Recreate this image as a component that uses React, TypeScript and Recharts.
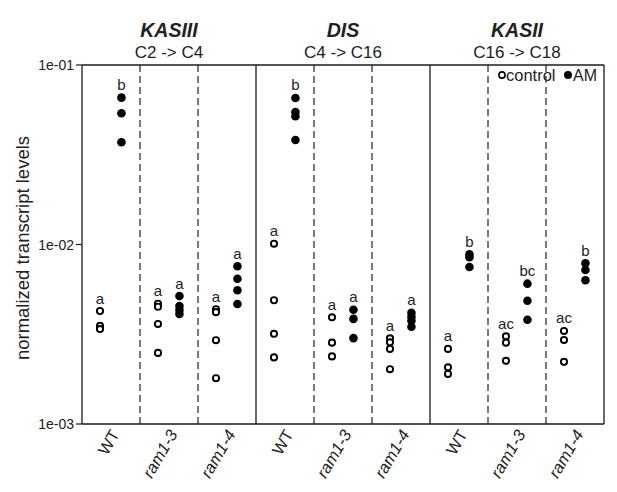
import React from 'react';
import { ScatterChart, Scatter, XAxis, YAxis, ReferenceLine } from 'recharts';

const genes = ['KASIII', 'DIS', 'KASII'];
const reactions = ['C2 -> C4', 'C4 -> C16', 'C16 -> C18'];
const genotypes = ['WT', 'ram1-3', 'ram1-4'];
const yTicks = [0.001, 0.01, 0.1];
const yTickLabels = ['1e-03', '1e-02', '1e-01'];
const xTicks = [0.5, 1.5, 2.5, 3.5, 4.5, 5.5, 6.5, 7.5, 8.5];
const solidDividers = [3, 6];
const dashedDividers = [1, 2, 4, 5, 7, 8];

// nine groups: KASIII (WT, ram1-3, ram1-4), DIS (...), KASII (...)
const controlValues = [
  [0.00426, 0.00352, 0.00338],
  [0.00468, 0.0045, 0.00361, 0.00249],
  [0.00436, 0.0042, 0.00293, 0.0018],
  [0.0101, 0.00489, 0.00318, 0.00235],
  [0.00393, 0.00284, 0.00238],
  [0.003, 0.00285, 0.00262, 0.00202],
  [0.00262, 0.00207, 0.0019],
  [0.00308, 0.00284, 0.00225],
  [0.0033, 0.00294, 0.00222],
];
const amValues = [
  [0.0658, 0.0538, 0.0371],
  [0.00516, 0.00454, 0.00432, 0.0041],
  [0.00756, 0.00645, 0.00556, 0.00466],
  [0.0655, 0.0547, 0.0518, 0.0382],
  [0.00433, 0.00385, 0.00301],
  [0.00417, 0.00396, 0.00376, 0.00348],
  [0.00882, 0.00849, 0.0075],
  [0.00605, 0.00486, 0.00381],
  [0.00786, 0.00721, 0.00632],
];
const controlLetters = ['a', 'a', 'a', 'a', 'a', 'a', 'a', 'ac', 'ac'];
const amLetters = ['b', 'a', 'a', 'b', 'a', 'a', 'b', 'bc', 'b'];

const CONTROL_OFFSET = 0.31;
const AM_OFFSET = 0.68;

const controlData = controlValues.flatMap((vals, g) => vals.map((v) => ({ x: g + CONTROL_OFFSET, y: v })));
const amData = amValues.flatMap((vals, g) => vals.map((v) => ({ x: g + AM_OFFSET, y: v })));
const letterData = [
  ...controlValues.map((vals, g) => ({ x: g + CONTROL_OFFSET, y: Math.max(...vals), label: controlLetters[g] })),
  ...amValues.map((vals, g) => ({ x: g + AM_OFFSET, y: Math.max(...vals), label: amLetters[g] })),
];

const W = 617;
const H = 492;
const PLOT_LEFT = 82;
const PLOT_TOP = 65;
const PLOT_RIGHT = 604;
const PLOT_BOTTOM = 424;
const FONT = '"Liberation Sans", Arial, Helvetica, sans-serif';
const LINE = '#1a1a1a';

const OpenDot = (p: any) => (
  <circle cx={p.cx} cy={p.cy} r={3.1} fill="#fff" stroke="#000" strokeWidth={1.9} />
);
const FilledDot = (p: any) => <circle cx={p.cx} cy={p.cy} r={4.3} fill="#000" />;
const Letter = (p: any) => (
  <text x={p.cx} y={p.cy - 7.5} textAnchor="middle" fontSize={15} fill="#222" fontFamily={FONT}>
    {p.payload.label}
  </text>
);

const XTick = (p: any) => {
  const idx = Math.floor(p.payload.value) % 3;
  const label = genotypes[idx];
  const ax = p.x + 9;
  const ay = PLOT_BOTTOM + 10;
  return (
    <text
      x={ax}
      y={ay}
      textAnchor="end"
      fontSize={16.5}
      fontStyle={idx === 0 ? 'normal' : 'italic'}
      fill="#222"
      fontFamily={FONT}
      transform={`rotate(-60, ${ax}, ${ay})`}
    >
      {label}
    </text>
  );
};

const YTick = (p: any) => {
  const i = yTicks.findIndex((t) => Math.abs(t - p.payload.value) < 1e-9);
  return (
    <text x={p.x} y={p.y} dy={5} textAnchor="end" fontSize={14} fill="#222" fontFamily={FONT}>
      {yTickLabels[i]}
    </text>
  );
};

export default function App() {
  const panelW = (PLOT_RIGHT - PLOT_LEFT) / 3;
  return (
    <div style={{ position: 'absolute', left: 0, top: 0, width: W, height: H, background: '#fff', fontFamily: FONT }}>
      <ScatterChart
        width={W}
        height={H}
        margin={{ top: PLOT_TOP, right: W - PLOT_RIGHT, left: 0, bottom: 0 }}
      >
        <XAxis
          type="number"
          dataKey="x"
          domain={[0, 9]}
          ticks={xTicks}
          tick={<XTick />}
          tickLine={false}
          axisLine={{ stroke: LINE, strokeWidth: 1.3 }}
          height={H - PLOT_BOTTOM}
          interval={0}
          allowDataOverflow
        />
        <YAxis
          type="number"
          dataKey="y"
          scale="log"
          domain={[0.001, 0.1]}
          ticks={yTicks}
          tick={<YTick />}
          tickSize={6}
          tickLine={{ stroke: LINE, strokeWidth: 1.2 }}
          axisLine={{ stroke: LINE, strokeWidth: 1.3 }}
          width={PLOT_LEFT}
          interval={0}
          allowDataOverflow
        />
        {dashedDividers.map((d) => (
          <ReferenceLine key={`d${d}`} x={d} stroke="#333" strokeWidth={1.3} strokeDasharray="7 4" />
        ))}
        {solidDividers.map((d) => (
          <ReferenceLine key={`s${d}`} x={d} stroke={LINE} strokeWidth={1.3} />
        ))}
        <ReferenceLine x={9} stroke={LINE} strokeWidth={1.3} />
        <ReferenceLine y={0.1} stroke={LINE} strokeWidth={1.3} />
        <Scatter name="control" data={controlData} shape={OpenDot} isAnimationActive={false} />
        <Scatter name="AM" data={amData} shape={FilledDot} isAnimationActive={false} />
        <Scatter name="letters" data={letterData} shape={Letter} isAnimationActive={false} />
      </ScatterChart>
      <svg
        width={W}
        height={H}
        style={{ position: 'absolute', left: 0, top: 0, pointerEvents: 'none' }}
        fontFamily={FONT}
      >
        {genes.map((g, i) => (
          <g key={g}>
            <text
              x={PLOT_LEFT + panelW * (i + 0.5)}
              y={37}
              textAnchor="middle"
              fontSize={19.5}
              fontWeight="bold"
              fontStyle="italic"
              fill="#222"
            >
              {g}
            </text>
            <text x={PLOT_LEFT + panelW * (i + 0.5)} y={58} textAnchor="middle" fontSize={17} fill="#222">
              {reactions[i]}
            </text>
          </g>
        ))}
        <text
          x={22}
          y={248}
          textAnchor="middle"
          dominantBaseline="central"
          fontSize={18.5}
          fill="#222"
          transform="rotate(-90, 22, 248)"
        >
          normalized transcript levels
        </text>
        <circle cx={502} cy={75} r={3.1} fill="#fff" stroke="#000" strokeWidth={1.6} />
        <text x={506} y={80.5} fontSize={16.5} fill="#222">control</text>
        <circle cx={568} cy={75} r={4} fill="#000" />
        <text x={573} y={80.5} fontSize={16} fill="#222">AM</text>
      </svg>
    </div>
  );
}
